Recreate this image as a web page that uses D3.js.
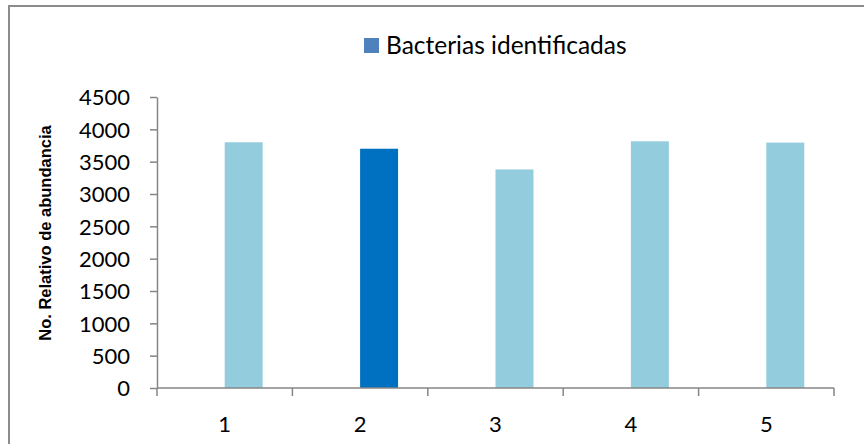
<!DOCTYPE html>
<html>
<head>
<meta charset="utf-8">
<script src="https://cdn.jsdelivr.net/npm/d3@7"></script>
<style>
  body { margin: 0; background: #fff; }
  svg { display: block; }
</style>
</head>
<body>
<svg id="chart" width="864" height="444"></svg>
<script>
// Relative abundance of identified bacteria per sample
const categories = ["1", "2", "3", "4", "5"];
const values = [3800, 3700, 3380, 3815, 3795];
const yTicks = [0, 500, 1000, 1500, 2000, 2500, 3000, 3500, 4000, 4500];
const seriesSlots = ["(vacío)", "Bacterias identificadas"]; // first slot is an unused series
const seriesName = "Bacterias identificadas";
const highlight = "2";

const svg = d3.select("#chart");
const W = 864, H = 444;
const plotLeft = 157, plotRight = 834, plotTop = 97, plotBottom = 388;

// Outer frame
svg.append("rect")
  .attr("x", 9).attr("y", 6)
  .attr("width", W).attr("height", H)
  .attr("fill", "#fff")
  .attr("stroke", "#8c8c8c")
  .attr("stroke-width", 2);

const x = d3.scaleBand()
  .domain(categories)
  .range([plotLeft, plotRight])
  .padding(0);

// Two series slots per category; bars occupy the second slot
const x1 = d3.scaleBand()
  .domain(seriesSlots)
  .range([0, x.bandwidth()])
  .paddingInner(0)
  .paddingOuter(0.783);

const y = d3.scaleLinear()
  .domain([0, 4500])
  .range([plotBottom, plotTop]);

// Bars
svg.append("g").selectAll("rect")
  .data(categories.map((c, i) => ({ c, v: values[i] })))
  .join("rect")
  .attr("x", d => x(d.c) + x1(seriesName))
  .attr("y", d => y(d.v))
  .attr("width", x1.bandwidth())
  .attr("height", d => y(0) - y(d.v))
  .attr("fill", d => d.c === highlight ? "#0070c0" : "#93cddd");

const font = "Lato, 'Noto Sans', sans-serif";
const axisColor = "#868686";

// Y axis
const yAxis = svg.append("g")
  .attr("transform", `translate(${plotLeft},0)`)
  .call(d3.axisLeft(y).tickValues(yTicks).tickFormat(d3.format("d"))
    .tickSize(7).tickPadding(20).tickSizeOuter(0));
yAxis.select(".domain").attr("stroke", axisColor).attr("stroke-width", 1.5);
yAxis.selectAll(".tick line").attr("stroke", axisColor).attr("stroke-width", 1.5);
yAxis.selectAll(".tick text")
  .attr("fill", "#000")
  .attr("dy", "0.36em")
  .style("font-family", font)
  .style("font-size", "22px");

// X axis with ticks on category boundaries
const xAxisG = svg.append("g")
  .attr("transform", `translate(0,${plotBottom})`);
xAxisG.append("line")
  .attr("x1", plotLeft).attr("x2", plotRight)
  .attr("stroke", axisColor).attr("stroke-width", 1.5);
xAxisG.selectAll("line.tk")
  .data(categories.map(c => x(c)).concat([plotRight]))
  .join("line")
  .attr("class", "tk")
  .attr("x1", d => d).attr("x2", d => d)
  .attr("y1", 0).attr("y2", 8)
  .attr("stroke", axisColor).attr("stroke-width", 1.5);
xAxisG.selectAll("text")
  .data(categories)
  .join("text")
  .attr("x", d => x(d) + x.bandwidth() / 2)
  .attr("y", 44)
  .attr("text-anchor", "middle")
  .style("font-family", font)
  .style("font-size", "22px")
  .text(d => d);

// Y axis title
svg.append("text")
  .attr("transform", "translate(51,233) rotate(-90)")
  .attr("text-anchor", "middle")
  .style("font-family", "'Liberation Sans', Arial, sans-serif")
  .style("font-weight", "bold")
  .style("font-size", "16.5px")
  .text("No. Relativo de abundancia");

// Legend
const legend = svg.append("g").attr("transform", "translate(364,38)");
legend.append("rect")
  .attr("width", 15).attr("height", 15)
  .attr("fill", "#4f81bd");
legend.append("text")
  .attr("x", 22).attr("y", 16)
  .style("font-family", font)
  .style("font-size", "24.5px")
  .text(seriesName);
</script>
</body>
</html>
